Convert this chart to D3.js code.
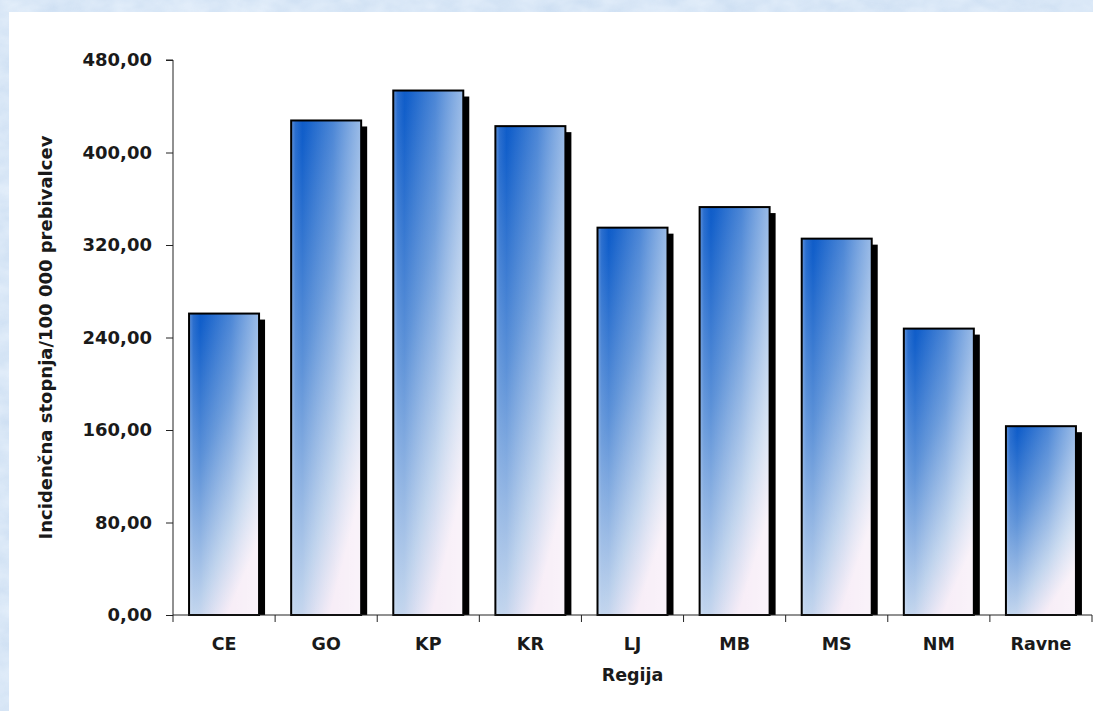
<!DOCTYPE html>
<html>
<head>
<meta charset="utf-8">
<script src="https://cdn.jsdelivr.net/npm/d3@7"></script>
<style>
  html, body { margin: 0; padding: 0; background: #d3e3f4; }
  svg { display: block; }
</style>
</head>
<body>
<svg id="chart" width="1093" height="711"></svg>
<script>
// Incidence rate per 100 000 inhabitants, by region
const regions = ["CE", "GO", "KP", "KR", "LJ", "MB", "MS", "NM", "Ravne"];
const rates = [260.7, 427.7, 453.6, 422.8, 335.0, 352.8, 325.5, 247.7, 163.3];
const yTicks = [0, 80, 160, 240, 320, 400, 480];
const yTitle = "Incidenčna stopnja/100 000 prebivalcev";
const xTitle = "Regija";

const W = 1093, H = 711;
const m = { left: 173, right: 1092, top: 60, bottom: 615 };
const svg = d3.select("#chart");
const defs = svg.append("defs");

// mottled light-blue backdrop
const noise = defs.append("filter").attr("id", "mottle")
  .attr("x", 0).attr("y", 0).attr("width", 1).attr("height", 1);
noise.append("feTurbulence").attr("type", "fractalNoise")
  .attr("baseFrequency", "0.035 0.06").attr("numOctaves", 3).attr("seed", 4).attr("result", "n");
noise.append("feColorMatrix").attr("in", "n").attr("type", "matrix")
  .attr("values", "0 0 0 0 0.80  0 0 0 0 0.88  0 0 0 0 0.97  0 0 0 -1.4 1.2");
svg.append("rect").attr("width", W).attr("height", H).attr("fill", "#cfe0f3");
svg.append("rect").attr("width", W).attr("height", H).attr("fill", "#eef4fb")
  .attr("filter", "url(#mottle)").attr("opacity", 0.8);

// white chart panel
svg.append("rect").attr("x", 9).attr("y", 12).attr("width", W - 9).attr("height", H - 12)
  .attr("fill", "#ffffff");

// bar fill: deep blue at top-left fading to pale lavender at bottom-right
const g1 = defs.append("linearGradient").attr("id", "barFill")
  .attr("x1", 0).attr("y1", 0).attr("x2", 0.55).attr("y2", 1);
[[0, "#0b58c6"], [0.1, "#125fca"], [0.45, "#5d92d8"], [0.8, "#bcd1ec"], [1, "#f6ebf6"]]
  .forEach(([o, c]) => g1.append("stop").attr("offset", o).attr("stop-color", c));
// horizontal sheen across each bar
const g2 = defs.append("linearGradient").attr("id", "barSheen")
  .attr("x1", 0).attr("y1", 0).attr("x2", 1).attr("y2", 0);
[[0, 0.35], [0.06, 0.12], [0.16, 0], [0.6, 0.12], [1, 0.4]]
  .forEach(([o, a]) => g2.append("stop").attr("offset", o)
    .attr("stop-color", "#ffffff").attr("stop-opacity", a));

const x = d3.scaleBand().domain(regions).range([m.left, m.right]).paddingInner(0).paddingOuter(0);
const y = d3.scaleLinear().domain([0, 480]).range([m.bottom, m.top]);
const barW = 70;
const bx = d => x(d.r) + (x.bandwidth() - barW) / 2;

const data = regions.map((r, i) => ({ r, v: rates[i] }));
const bars = svg.append("g");
// drop shadow
bars.selectAll("rect.shadow").data(data).join("rect").attr("class", "shadow")
  .attr("x", d => bx(d) + 6).attr("y", d => y(d.v) + 6)
  .attr("width", barW).attr("height", d => y(0) - y(d.v) - 6)
  .attr("fill", "#000");
bars.selectAll("rect.bar").data(data).join("rect").attr("class", "bar")
  .attr("x", d => bx(d)).attr("y", d => y(d.v))
  .attr("width", barW).attr("height", d => y(0) - y(d.v))
  .attr("fill", "url(#barFill)");
bars.selectAll("rect.sheen").data(data).join("rect").attr("class", "sheen")
  .attr("x", d => bx(d)).attr("y", d => y(d.v))
  .attr("width", barW).attr("height", d => y(0) - y(d.v))
  .attr("fill", "url(#barSheen)").attr("stroke", "#000").attr("stroke-width", 2);

const font = "'DejaVu Sans', Verdana, sans-serif";

// y axis
const yAxis = svg.append("g").attr("transform", `translate(${m.left},0)`)
  .call(d3.axisLeft(y).tickValues(yTicks).tickSize(7).tickPadding(14)
    .tickFormat(d => d3.format(".2f")(d).replace(".", ",")));
yAxis.select(".domain").attr("stroke", "#222").attr("d", `M-7,${m.top}H0V${m.bottom + 7}`);
yAxis.selectAll(".tick line").attr("stroke", "#222");
yAxis.selectAll("text").attr("font-family", font).attr("font-weight", "bold")
  .attr("font-size", 18).attr("fill", "#1a1a1a");

// x axis: ticks mark the band boundaries
const xAxis = svg.append("g").attr("transform", `translate(0,${m.bottom})`)
  .call(d3.axisBottom(x).tickSize(0).tickPadding(23));
xAxis.select(".domain").attr("stroke", "#222").attr("d", `M${m.left},0H${m.right}`);
xAxis.selectAll("text").attr("font-family", font).attr("font-weight", "bold")
  .attr("font-size", 17.5).attr("fill", "#1a1a1a");
xAxis.selectAll("line.sep").data(regions).join("line").attr("class", "sep")
  .attr("x1", d => x(d) + x.bandwidth()).attr("x2", d => x(d) + x.bandwidth())
  .attr("y1", 0).attr("y2", 7).attr("stroke", "#222");

// axis titles
svg.append("text").attr("x", (m.left + m.right) / 2).attr("y", 681)
  .attr("text-anchor", "middle").attr("font-family", font).attr("font-weight", "bold")
  .attr("font-size", 17.5).attr("fill", "#1a1a1a").text(xTitle);
svg.append("text")
  .attr("transform", `translate(52,${(m.top + m.bottom) / 2}) rotate(-90)`)
  .attr("text-anchor", "middle").attr("font-family", font).attr("font-weight", "bold")
  .attr("font-size", 18).attr("fill", "#1a1a1a").text(yTitle);
</script>
</body>
</html>
